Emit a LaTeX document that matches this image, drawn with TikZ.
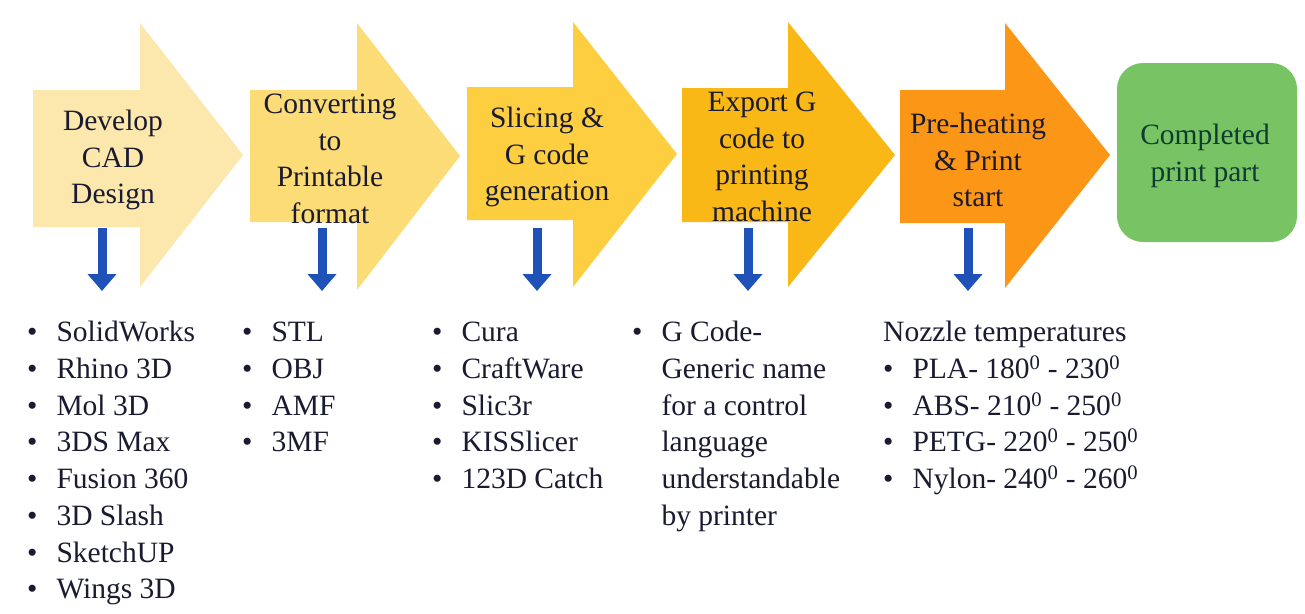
\documentclass[tikz,border=0pt]{standalone}
\usepackage{fontspec}
\setmainfont{Liberation Serif}
\usetikzlibrary{arrows.meta}
\definecolor{aone}{RGB}{252,232,172}
\definecolor{atwo}{RGB}{252,220,118}
\definecolor{athree}{RGB}{252,206,64}
\definecolor{afour}{RGB}{250,184,22}
\definecolor{afive}{RGB}{251,150,22}
\definecolor{boxgreen}{RGB}{120,196,100}
\definecolor{boxtext}{RGB}{14,60,48}
\definecolor{navytext}{RGB}{26,26,48}
\definecolor{downblue}{RGB}{30,82,184}
\begin{document}
\begin{tikzpicture}[x=1pt,y=-1pt,
  steptext/.style={align=center,font=\fontsize{29.5}{36.5}\selectfont,text=navytext,inner sep=0pt},
  listtext/.style={anchor=north west,inner sep=0pt,font=\fontsize{29.5}{36.7}\selectfont,text=navytext},
  downarrow/.style={draw=downblue,line width=9pt,-{Triangle[width=28pt,length=17pt]}}]
\useasboundingbox (0,0) rectangle (1305,613);
\fill[white] (0,0) rectangle (1305,613);
% big process arrows
\fill[aone]   (33,90) -- (140,90) -- (140,23) -- (243,155) -- (140,287) -- (140,227) -- (33,227) -- cycle;
\fill[atwo]   (250,90) -- (357,90) -- (357,23) -- (460,156) -- (357,290) -- (357,222) -- (250,222) -- cycle;
\fill[athree] (467,87) -- (573,87) -- (573,22) -- (677,154) -- (573,287) -- (573,220) -- (467,220) -- cycle;
\fill[afour]  (682,88) -- (788,88) -- (788,22) -- (895,155) -- (788,287) -- (788,222) -- (682,222) -- cycle;
\fill[afive]  (900,90) -- (1005,90) -- (1005,23) -- (1110,155) -- (1005,288) -- (1005,223) -- (900,223) -- cycle;
% final box
\node[fill=boxgreen,rounded corners=26pt,minimum width=180pt,minimum height=179pt,inner sep=0pt] (done) at (1207,152.5) {};
\node[steptext,text=boxtext] (donetext) at (1205,156) {Completed\\print part};
% step texts
\node[steptext] (s1) at (113,160) {Develop\\CAD\\Design};
\node[steptext] (s2) at (330,159) {Converting\\to\\Printable\\format};
\node[steptext] (s3) at (547,157) {Slicing \&\\G code\\generation};
\node[steptext] (s4) at (762,157) {Export G\\code to\\printing\\machine};
\node[steptext] (s5) at (978,160) {Pre-heating\\\& Print\\start};
% blue down arrows
\foreach \n/\x in {1/102,2/322,3/537,4/748,5/968}{
  \coordinate (b\n s) at (\x,228);
  \coordinate (b\n e) at (\x,291);
  \draw[downarrow] (b\n s) -- (b\n e);
}
% lists
\node[listtext] (l1) at (27,316) {\begin{tabular}{@{}l@{\hspace{19pt}}l@{}}
\textbullet & SolidWorks\\
\textbullet & Rhino 3D\\
\textbullet & Mol 3D\\
\textbullet & 3DS Max\\
\textbullet & Fusion 360\\
\textbullet & 3D Slash\\
\textbullet & SketchUP\\
\textbullet & Wings 3D
\end{tabular}};
\node[listtext] (l2) at (242,316) {\begin{tabular}{@{}l@{\hspace{19pt}}l@{}}
\textbullet & STL\\
\textbullet & OBJ\\
\textbullet & AMF\\
\textbullet & 3MF
\end{tabular}};
\node[listtext] (l3) at (432,316) {\begin{tabular}{@{}l@{\hspace{19pt}}l@{}}
\textbullet & Cura\\
\textbullet & CraftWare\\
\textbullet & Slic3r\\
\textbullet & KISSlicer\\
\textbullet & 123D Catch
\end{tabular}};
\node[listtext] (l4) at (632,316) {\begin{tabular}{@{}l@{\hspace{19pt}}l@{}}
\textbullet & G Code-\\
 & Generic name\\
 & for a control\\
 & language\\
 & understandable\\
 & by printer
\end{tabular}};
\node[listtext] (l5) at (883,316) {\begin{tabular}{@{}l@{\hspace{19pt}}l@{}}
\multicolumn{2}{@{}l@{}}{Nozzle temperatures}\\
\textbullet & PLA- 180\textsuperscript{0} - 230\textsuperscript{0}\\
\textbullet & ABS- 210\textsuperscript{0} - 250\textsuperscript{0}\\
\textbullet & PETG- 220\textsuperscript{0} - 250\textsuperscript{0}\\
\textbullet & Nylon- 240\textsuperscript{0} - 260\textsuperscript{0}
\end{tabular}};
\end{tikzpicture}
\end{document}
